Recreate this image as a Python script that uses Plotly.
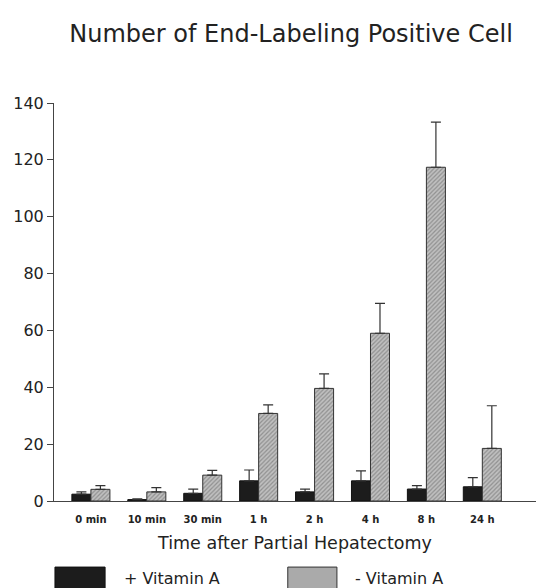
import plotly.graph_objects as go

categories = ["0 min", "10 min", "30 min", "1 h", "2 h", "4 h", "8 h", "24 h"]
with_vit_a = [2.4, 0.5, 2.7, 7.1, 3.2, 7.1, 4.2, 5.0]
with_vit_a_err = [0.8, 0.3, 1.5, 3.8, 1.0, 3.5, 1.2, 3.2]
without_vit_a = [4.1, 3.2, 9.1, 30.8, 39.6, 59.0, 117.4, 18.5]
without_vit_a_err = [1.3, 1.5, 1.7, 3.0, 5.1, 10.5, 15.9, 15.0]
y_ticks = [0, 20, 40, 60, 80, 100, 120, 140]

FONT = "DejaVu Sans, sans-serif"

fig = go.Figure()
fig.add_trace(go.Bar(
    x=categories, y=with_vit_a, name="+ Vitamin A",
    marker=dict(color="#1c1c1c", line=dict(color="#111", width=1)),
    error_y=dict(type="data", symmetric=False, array=with_vit_a_err,
                 arrayminus=[0] * len(categories), color="#333", thickness=1.2, width=5),
))
fig.add_trace(go.Bar(
    x=categories, y=without_vit_a, name="- Vitamin A",
    marker=dict(color="#b0b0b0", line=dict(color="#333", width=1),
                pattern=dict(shape="/", size=3, solidity=0.4,
                             fgcolor="#606060", bgcolor="#c0c0c0")),
    error_y=dict(type="data", symmetric=False, array=without_vit_a_err,
                 arrayminus=[0] * len(categories), color="#333", thickness=1.2, width=5),
))

# manual legend (large swatches below the axis title)
fig.add_shape(type="rect", xref="paper", yref="paper",
              x0=0.002, x1=0.106, y0=-0.166, y1=-0.235,
              fillcolor="#1c1c1c", line=dict(color="#111", width=1))
fig.add_shape(type="rect", xref="paper", yref="paper",
              x0=0.485, x1=0.587, y0=-0.166, y1=-0.235,
              fillcolor="#aaaaaa", line=dict(color="#333", width=1))
fig.add_annotation(text="+ Vitamin A", xref="paper", yref="paper",
                   x=0.141, y=-0.194, xanchor="left", yanchor="middle",
                   showarrow=False, font=dict(family=FONT, size=16, color="#222"))
fig.add_annotation(text="- Vitamin A", xref="paper", yref="paper",
                   x=0.620, y=-0.194, xanchor="left", yanchor="middle",
                   showarrow=False, font=dict(family=FONT, size=16, color="#222"))

fig.update_layout(
    width=536, height=588,
    margin=dict(l=54, r=0, t=103, b=87),
    paper_bgcolor="white", plot_bgcolor="white",
    barmode="group", bargap=0.32, bargroupgap=0,
    showlegend=False,
    title=dict(text="Number of End-Labeling Positive Cell", x=0.543, xanchor="center",
               y=0.943, yanchor="middle",
               font=dict(family=FONT, size=24, color="#222")),
    xaxis=dict(
        range=[-0.66, 7.96], showline=True, linecolor="#444", linewidth=1,
        ticks="", showgrid=False, zeroline=False, ticklabelstandoff=9,
        tickfont=dict(family=FONT, size=10, color="#222", weight="bold"),
        title=dict(text="Time after Partial Hepatectomy", standoff=12,
                   font=dict(family=FONT, size=17.5, color="#222")),
    ),
    yaxis=dict(
        range=[0, 140], tickvals=y_ticks, showline=True, linecolor="#444", linewidth=1,
        ticks="outside", ticklen=6, tickcolor="#444", showgrid=False, zeroline=False,
        tickfont=dict(family=FONT, size=16, color="#222"),
    ),
)

fig.write_html("out.html", config={"displayModeBar": False},
               post_script="document.body.style.margin='0';")
